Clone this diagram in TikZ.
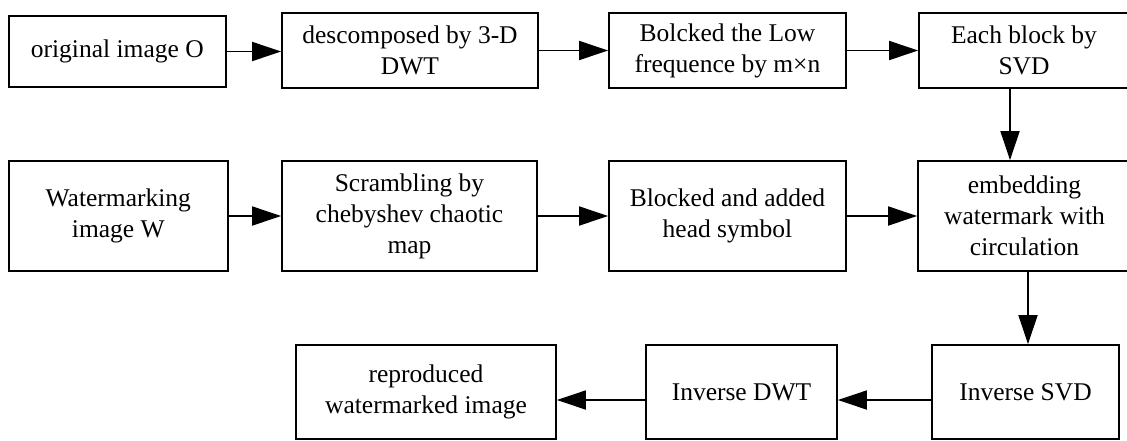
\documentclass[tikz,border=0pt]{standalone}
\usepackage{fontspec}
\setmainfont{Liberation Serif}
\usetikzlibrary{arrows.meta}
\begin{document}
\begin{tikzpicture}[x=1pt,y=-1pt,
  box/.style={draw, line width=1.8pt, rectangle, inner sep=0pt, align=center,
    font=\fontsize{25.5}{31}\selectfont},
  arr/.style={line width=1.8pt, -{Triangle[length=29pt,width=19pt]}}]
\useasboundingbox (0,0) rectangle (1127,440);
% row 1
\node[box, minimum width=217.4pt, minimum height=71pt] (b1) at (117.3,51.5) {original image O};
\node[box, minimum width=256pt, minimum height=75pt] (b2) at (410,50.5) {descomposed by 3-D\\DWT};
\node[box, minimum width=237pt, minimum height=75pt] (b3) at (727.5,50.5) {Bolcked the Low\\frequence by m×n};
\node[box, minimum width=216pt, minimum height=75pt] (b4) at (1027,50.5) {\hspace*{-6pt}Each block by\\\hspace*{-6pt}SVD};
% row 2
\node[box, minimum width=219.4pt, minimum height=110pt] (b5) at (118.3,216) {Watermarking\\image W};
\node[box, minimum width=255pt, minimum height=110pt] (b6) at (409.5,216) {Scrambling by\\chebyshev chaotic\\map};
\node[box, minimum width=237pt, minimum height=110pt] (b7) at (727.5,216) {Blocked and added\\head symbol};
\node[box, minimum width=217pt, minimum height=110pt] (b8) at (1026.5,216) {\hspace*{-4pt}embedding\\\hspace*{-4pt}watermark with\\\hspace*{-4pt}circulation};
% row 3
\node[box, minimum width=187pt, minimum height=94pt] (b9) at (1025.5,392) {Inverse SVD};
\node[box, minimum width=191pt, minimum height=94pt] (b10) at (741.5,392) {Inverse DWT};
\node[box, minimum width=260pt, minimum height=94pt] (b11) at (426,392) {reproduced\\watermarked image};
% connectors
\draw[arr] (b1.east) -- (b1.east -| b2.west);
\draw[arr] (b2.east) -- (b2.east -| b3.west);
\draw[arr] (b3.east) -- (b3.east -| b4.west);
\draw[arr] (b5.east) -- (b5.east -| b6.west);
\draw[arr] (b6.east) -- (b6.east -| b7.west);
\draw[arr] (b7.east) -- (b7.east -| b8.west);
\draw[arr] ([xshift=-17pt]b4.south) -- ([xshift=-17pt]b4.south |- b8.north);
\draw[arr] ([xshift=1.5pt]b8.south) -- ([xshift=1.5pt]b8.south |- b9.north);
\draw[arr] ([yshift=-8pt]b9.west) -- ([yshift=-8pt]b9.west -| b10.east);
\draw[arr] ([yshift=-8pt]b10.west) -- ([yshift=-8pt]b10.west -| b11.east);
\end{tikzpicture}
\end{document}
